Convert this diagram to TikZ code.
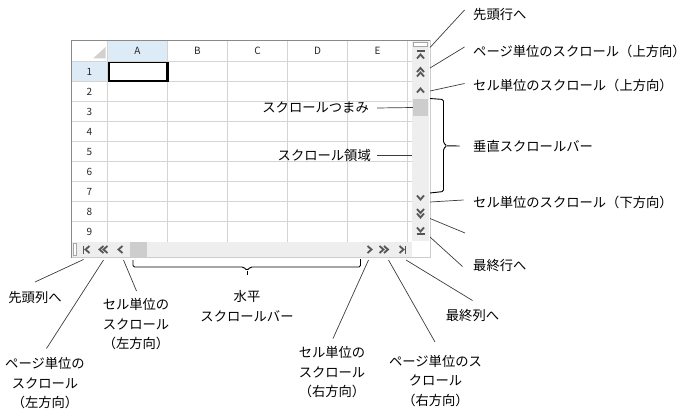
\documentclass[tikz,border=0pt]{standalone}
\usepackage{fontspec}
\setmainfont{Noto Sans CJK JP}
\usetikzlibrary{positioning,calc}
\definecolor{cFrame}{HTML}{8A8A8A}
\definecolor{cGrid}{HTML}{D4D4D4}
\definecolor{cHead}{HTML}{DDEBF7}
\definecolor{cBar}{HTML}{EEEEEE}
\definecolor{cThumb}{HTML}{CDCDCD}
\definecolor{cGlyph}{HTML}{555555}
\definecolor{cLead}{HTML}{3C3C3C}
\tikzset{
  lbl/.style={inner sep=0pt,font=\fontsize{13.3}{19.5}\selectfont,text=black},
  mlbl/.style={lbl,align=center},
  hdr/.style={inner sep=0pt,font=\fontsize{10}{12}\selectfont,text=black!85},
  lead/.style={draw=cLead,line width=0.7pt},
  brc/.style={draw=black,line width=0.9pt,rounded corners=1.5pt},
  chev/.style={draw=cGlyph,line width=1.8pt},
  thumb/.style={fill=cThumb,inner sep=0pt},
  splitbox/.style={draw=black!35,fill=white,line width=0.6pt},
}

\begin{document}
\begin{tikzpicture}[x=1pt,y=-1pt]
  \useasboundingbox (0,0) rectangle (690,417);
  \fill[white] (71,40) rectangle (430,258);
  \fill[cHead] (108,41) rectangle (167,61);
  \fill[cHead] (72,62) rectangle (107,81);
  \fill[black!18] (93,58.5) -- (105.5,58.5) -- (105.5,47) -- cycle;
  \foreach \y in {61.5,81.5,...,221.5} \draw[cGrid] (72,\y) -- (412,\y);
  \foreach \x in {107.5,167.5,...,407.5} \draw[cGrid] (\x,41) -- (\x,242);
  \foreach \c [count=\i from 0] in {A,B,C,D,E} \node[hdr] (col\c) at (137.5+60*\i,51) {\c};
  \foreach \r in {1,...,9} \node[hdr] (row\r) at (89.5,51.5+20*\r) {\r};
  \draw[line width=1.4pt] (109,62.7) rectangle (167.5,81.2);
  \draw[line width=3pt] (167.5,62) -- (167.5,82.5);
  \draw[line width=2.2pt] (108.3,81.2) -- (169,81.2);

  \fill[cBar] (412,41) rectangle (429,241);
  \fill[cBar] (72,242) rectangle (412,257);
  \draw[cFrame,line width=1.5pt] (71.5,258) -- (71.5,40.5) -- (430,40.5);
  \draw[black!20,line width=0.8pt] (430,40.5) -- (430,257.8) -- (71.5,257.8);
  \node[thumb,minimum width=15pt,minimum height=17pt] (vThumb) at (420.5,107.5) {};
  \node[thumb,minimum width=17pt,minimum height=15pt] (hThumb) at (138.5,249.5) {};
  \draw[splitbox] (413.5,42.5) rectangle (427.5,46.5);
  \draw[splitbox] (73.5,243.5) rectangle (76.5,255.5);
  \foreach \y in {56.5,70,74.5,90.5} \draw[chev] (417,\y+2) -- (420.5,\y-2) -- (424,\y+2);
  \foreach \y in {197.5,211,215.5,229.5} \draw[chev] (417,\y-2) -- (420.5,\y+2) -- (424,\y-2);
  \draw[chev] (416.5,51.3) -- (424.5,51.3);
  \draw[chev] (416.5,233.8) -- (424.5,233.8);
  \foreach \x in {87.5,101.5,105.5,120.5} \draw[chev] (\x+2,246) -- (\x-2,249.5) -- (\x+2,253);
  \foreach \x in {369.5,381.5,386,401.5} \draw[chev] (\x-2,246) -- (\x+2,249.5) -- (\x-2,253);
  \draw[chev] (83.5,245.5) -- (83.5,253.5);
  \draw[chev] (405.5,245.5) -- (405.5,253.5);

  \node[lbl,anchor=east] (tThumb) at (369,108) {スクロールつまみ};
  \draw[lead] (vThumb.west) -- ($(tThumb.east)+(8,0)$);
  \node[lbl,anchor=east] (tArea) at (371,155.5) {スクロール領域};
  \coordinate (vArea) at (412,155.5);
  \draw[lead] (vArea) -- ($(tArea.east)+(6,0)$);

  \coordinate (pFirstRow) at (430,47.5);
  \coordinate (pPageUp) at (430,68);
  \coordinate (pCellUp) at (430,91);
  \coordinate (pCellDown) at (430,202);
  \coordinate (pPageDown) at (430,218.5);
  \coordinate (ePageDown) at (465,233);
  \coordinate (pLastRow) at (430,237);
  \node[lbl,anchor=west] (tFirstRow) at (473,14) {先頭行へ};
  \node[lbl,anchor=west] (tPageUp) at (473,51) {ページ単位のスクロール（上方向）};
  \node[lbl,anchor=west] (tCellUp) at (473,85.5) {セル単位のスクロール（上方向）};
  \node[lbl,anchor=west] (tVBar) at (473,146) {垂直スクロールバー};
  \node[lbl,anchor=west] (tCellDown) at (473,202) {セル単位のスクロール（下方向）};
  \node[lbl,anchor=west] (tLastRow) at (473,265.5) {最終行へ};
  \draw[lead] (pFirstRow) -- ($(tFirstRow.west)+(-8.5,-4)$);
  \draw[lead] (pPageUp) -- ($(tPageUp.west)+(-8.5,-4)$);
  \draw[lead] (pCellUp) -- ($(tCellUp.west)+(-8.5,-2)$);
  \draw[lead] (pCellDown) -- ($(tCellDown.west)+(-9.5,-2)$);
  \draw[lead] (pPageDown) -- (ePageDown);
  \draw[lead] (pLastRow) -- ($(tLastRow.west)+(-10.5,1)$);
  \draw[brc] (430,98.5) -- (443.5,99.5) -- (443.5,143) -- (447,145.8) -- (443.5,148.5) -- (443.5,191.5) -- (430,193);
  \draw[brc] (447,145.8) -- ($(tVBar.west)+(-13.5,0)$);

  \coordinate (pFirstCol) at (83.5,259.5);
  \coordinate (pPageLeft) at (103.5,260);
  \coordinate (pCellLeft) at (123.5,260);
  \coordinate (pCellRight) at (368.5,260);
  \coordinate (pPageRight) at (388.5,260);
  \coordinate (pLastCol) at (406,260);
  \node[lbl] (tFirstCol) at (35,297) {先頭列へ};
  \node[mlbl] (tPageLeft) at (45,383.5) {ページ単位の\\スクロール\\（左方向）};
  \node[mlbl] (tCellLeft) at (136,324.5) {セル単位の\\スクロール\\（左方向）};
  \node[mlbl] (tHBar) at (247,306) {水平\\スクロールバー};
  \node[mlbl] (tCellRight) at (332,372.5) {セル単位の\\スクロール\\（右方向）};
  \node[mlbl] (tPageRight) at (435.5,381) {ページ単位のス\\クロール\\（右方向）};
  \node[lbl] (tLastCol) at (472.5,315) {最終列へ};
  \draw[lead] (pFirstCol) -- ($(tFirstCol)+(0,-15)$);
  \draw[lead] (pPageLeft) -- ($(tPageLeft)+(1.5,-35)$);
  \draw[lead] (pCellLeft) -- ($(tCellLeft)+(0.5,-33.5)$);
  \draw[lead] (pCellRight) -- ($(tCellRight)+(1,-34)$);
  \draw[lead] (pPageRight) -- ($(tPageRight)+(-0.5,-39)$);
  \draw[lead] (pLastCol) -- ($(tLastCol)+(0,-14.5)$);
  \draw[brc] (133,260) -- (133,267) -- (243.5,267) -- (247,270.5) -- (250.5,267) -- (360.5,267) -- (360.5,259);
  \draw[brc] (247,270.5) -- ($(tHBar)+(0,-31)$);
\end{tikzpicture}
\end{document}
